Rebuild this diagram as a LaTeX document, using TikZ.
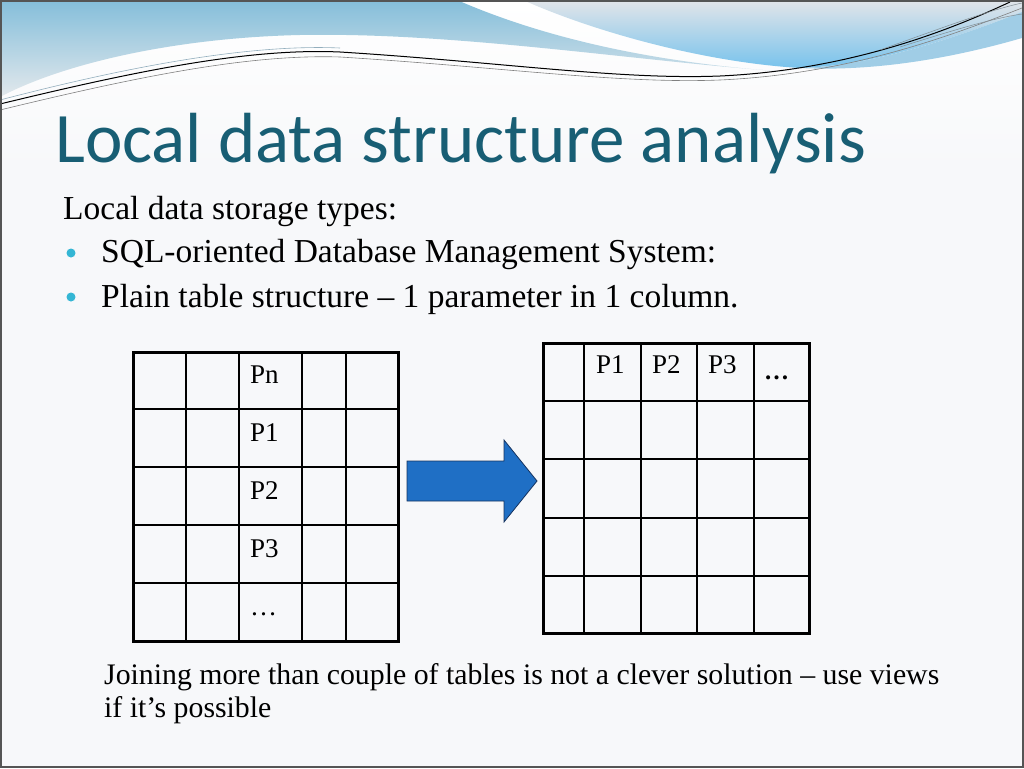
\documentclass[tikz,border=0pt]{standalone}
\usepackage{fontspec}
\setmainfont{Liberation Serif}
\newfontfamily\titlefont{Carlito}
\usepackage{xcolor}
\usepackage{tikz}
\usetikzlibrary{positioning}
\definecolor{SlideBg}{RGB}{247,248,250}
\definecolor{SlideFrame}{RGB}{85,85,85}
\definecolor{TitleTeal}{RGB}{24,94,116}
\definecolor{BulletCyan}{RGB}{52,182,212}
\definecolor{SkyTop}{RGB}{132,190,218}
\definecolor{SkyMid}{RGB}{178,210,226}
\definecolor{SkyLow}{RGB}{226,232,236}
\definecolor{MistTop}{RGB}{226,229,233}
\definecolor{MistLow}{RGB}{120,195,236}
\definecolor{StripeBlue}{RGB}{160,205,230}
\definecolor{ArrowBlue}{RGB}{31,111,197}
\definecolor{ArrowEdge}{RGB}{22,52,96}

\begin{document}
\begin{tikzpicture}[x=1pt,y=-1pt,
    bodytext/.style={anchor=base west,inner sep=0pt,font=\fontsize{33.5}{40}\selectfont},
    notetext/.style={anchor=base west,inner sep=0pt,font=\fontsize{29.8}{36}\selectfont},
    celltext/.style={anchor=base west,inner sep=0pt,font=\fontsize{27}{32}\selectfont},
    gridline/.style={line width=1.4pt},
    tableframe/.style={line width=3pt},
    bulletdot/.style={circle,fill=BulletCyan,inner sep=0pt,minimum size=9pt}]
  \useasboundingbox (0,0) rectangle (1024,768);
  \fill[SlideBg] (0,0) rectangle (1024,768);
  \shade[top color=white,bottom color=SlideBg] (0,0) rectangle (1024,170);
  % header waves
  \shade[top color=SkyTop,middle color=SkyMid,bottom color=SkyLow]
    (0,0) -- (457,0) .. controls (560,45) and (680,65) .. (790,72)
    .. controls (640,62) and (460,32) .. (300,35)
    .. controls (170,38) and (60,65) .. (0,97) -- cycle;
  \shade[top color=MistTop,bottom color=MistLow]
    (523,0) -- (1022,0) -- (1022,12) .. controls (950,40) and (870,66) .. (800,68)
    .. controls (700,62) and (590,30) .. (523,0) -- cycle;
  \fill[StripeBlue]
    (1022,12) .. controls (950,40) and (870,66) .. (800,68)
    .. controls (880,72) and (960,56) .. (1022,38) -- cycle;
  \draw[StripeBlue!60!gray,line width=0.6pt]
    (0,100) .. controls (130,66) and (250,44) .. (340,48);
  \draw[black,line width=1pt]
    (0,104) .. controls (140,70) and (250,48) .. (340,52)
    .. controls (500,62) and (620,80) .. (720,76)
    .. controls (850,70) and (950,30) .. (1010,2);
  \draw[gray,line width=0.6pt]
    (0,110) .. controls (140,76) and (250,54) .. (340,57)
    .. controls (500,67) and (620,84) .. (720,80)
    .. controls (850,74) and (950,36) .. (1022,8);
  \draw[gray!80!SkyTop,line width=0.5pt] (880,50) .. controls (950,25) and (990,10) .. (1022,3);
  \draw[gray!80!SkyTop,line width=0.5pt] (900,47) .. controls (960,28) and (995,18) .. (1022,14);
  \draw[SlideFrame,line width=2pt] (1,1) rectangle (1023,767);

  % title and text
  \node[anchor=base west,inner sep=0pt,text=TitleTeal,font=\titlefont\fontsize{71}{80}\selectfont] (title)
    at (55,162) {Local data structure analysis};
  \node[bodytext] (intro) at (63,219) {Local data storage types:};
  \node[bulletdot] (bul1) at (71,253) {};
  \node[bodytext] (item1) at (101,262) {SQL-oriented Database Management System:};
  \node[bulletdot] (bul2) at (71,297) {};
  \node[bodytext] (item2) at (101,307) {Plain table structure -- 1 parameter in 1 column.};

  % left table: parameters in rows
  \foreach \x in {186,239,302,346} \draw[gridline] (\x,352) -- (\x,641);
  \foreach \y in {409,467,525,583} \draw[gridline] (133,\y) -- (398,\y);
  \draw[tableframe] (133,352) rectangle (398,641);
  \foreach \t [count=\i] in {Pn,P1,P2,P3,\dots}
    \node[celltext] (rowp\i) at (250,{352+58*(\i-1)+31}) {\t};

  % arrow
  \draw[ArrowEdge,fill=ArrowBlue,line width=0.8pt]
    (407,461) -- (504,461) -- (504,440) -- (537,481) -- (504,522) -- (504,501) -- (407,501) -- cycle;

  % right table: parameters in columns
  \foreach \x in {584,641,697,754} \draw[gridline] (\x,343) -- (\x,633);
  \foreach \y in {401,459,518,576} \draw[gridline] (543,\y) -- (809,\y);
  \draw[tableframe] (543,343) rectangle (809,633);
  \node[celltext] (colp1) at (596,373) {P1};
  \node[celltext] (colp2) at (652,373) {P2};
  \node[celltext] (colp3) at (708,373) {P3};
  \node[celltext,font=\fontsize{25}{30}\selectfont\bfseries] (colmore) at (764,379) {\dots};

  % note
  \node[notetext] (note1) at (104,684) {Joining more than couple of tables is not a clever solution -- use views};
  \node[notetext] (note2) at (104,717) {if it’s possible};
\end{tikzpicture}
\end{document}
